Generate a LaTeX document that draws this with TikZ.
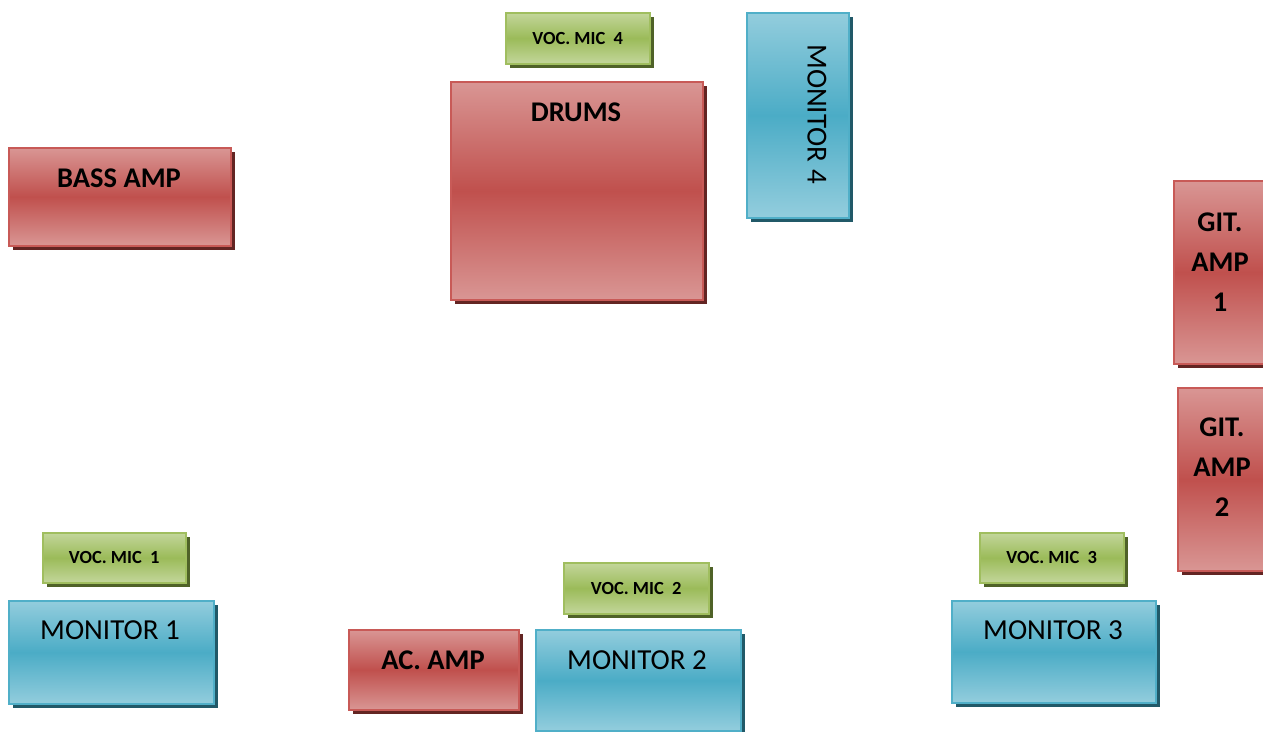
\documentclass[tikz,border=0pt]{standalone}
\usepackage{fontspec}
\setmainfont{Carlito}
\usetikzlibrary{shadows}
\definecolor{redlt}{RGB}{217,150,148}
\definecolor{redmd}{RGB}{192,80,77}
\definecolor{reddk}{RGB}{99,37,35}
\definecolor{redln}{RGB}{200,90,87}
\definecolor{blult}{RGB}{147,205,221}
\definecolor{blumd}{RGB}{75,172,198}
\definecolor{bludk}{RGB}{33,89,104}
\definecolor{bluln}{RGB}{80,175,200}
\definecolor{grnlt}{RGB}{195,214,155}
\definecolor{grnmd}{RGB}{155,187,89}
\definecolor{grndk}{RGB}{79,98,40}
\definecolor{grnln}{RGB}{160,190,95}
\tikzset{
  box/.style={rectangle, line width=1.6pt, inner sep=0pt, anchor=north west},
  redbox/.style={box, draw=redln, top color=redlt, bottom color=redlt, middle color=redmd,
    drop shadow={shadow xshift=4pt, shadow yshift=-4pt, fill=reddk, opacity=1}},
  blubox/.style={box, draw=bluln, top color=blult, bottom color=blult, middle color=blumd,
    drop shadow={shadow xshift=4pt, shadow yshift=-4pt, fill=bludk, opacity=1}},
  micbox/.style={box, draw=grnln, top color=grnlt, bottom color=grnlt, middle color=grnmd,
    drop shadow={shadow xshift=4pt, shadow yshift=-4pt, fill=grndk, opacity=1},
    font=\bfseries\fontsize{18.5}{22}\selectfont},
  boldlbl/.style={font=\bfseries\fontsize{28.5}{40}\selectfont, align=center, inner sep=0pt},
  reglbl/.style={font=\fontsize{29}{35}\selectfont, inner sep=0pt},
}
\begin{document}
\begin{tikzpicture}[x=1pt,y=-1pt]
\useasboundingbox (0,0) rectangle (1263,731);
% microphones
\node[micbox, minimum width=144pt, minimum height=51pt] (mic4) at (505,12) {VOC. MIC\ \ 4};
\node[micbox, minimum width=143pt, minimum height=50pt] (mic1) at (42,532) {VOC. MIC\ \ 1};
\node[micbox, minimum width=145pt, minimum height=51pt] (mic2) at (563,562) {VOC. MIC\ \ 2};
\node[micbox, minimum width=144pt, minimum height=50pt] (mic3) at (979,532) {VOC. MIC\ \ 3};
% red boxes
\node[redbox, minimum width=252pt, minimum height=218pt] (drums) at (450,81) {};
\node[boldlbl] (drumst) at (576,112) {DRUMS};
\node[redbox, minimum width=222pt, minimum height=98pt] (bass) at (8,147) {};
\node[boldlbl] (basst) at (119,178) {BASS AMP};
\node[redbox, minimum width=96pt, minimum height=183pt] (git1) at (1173,180) {};
\node[boldlbl] (git1t) at (1220,262) {GIT.\\AMP\\1};
\node[redbox, minimum width=94pt, minimum height=183pt] (git2) at (1177,387) {};
\node[boldlbl] (git2t) at (1222,467) {GIT.\\AMP\\2};
\node[redbox, minimum width=170pt, minimum height=80pt] (acamp) at (348,629) {};
\node[boldlbl] (acampt) at (433,660) {AC. AMP};
% monitors
\node[blubox, minimum width=102pt, minimum height=205pt] (mon4) at (746,12) {};
\node[reglbl, rotate=-90] (mon4t) at (817,114) {MONITOR 4};
\node[blubox, minimum width=205pt, minimum height=103pt] (mon1) at (8,600) {};
\node[reglbl] (mon1t) at (110,630) {MONITOR 1};
\node[blubox, minimum width=205pt, minimum height=101pt] (mon2) at (535,629) {};
\node[reglbl] (mon2t) at (637,660) {MONITOR 2};
\node[blubox, minimum width=204pt, minimum height=102pt] (mon3) at (951,600) {};
\node[reglbl] (mon3t) at (1053,630) {MONITOR 3};
\end{tikzpicture}
\end{document}
